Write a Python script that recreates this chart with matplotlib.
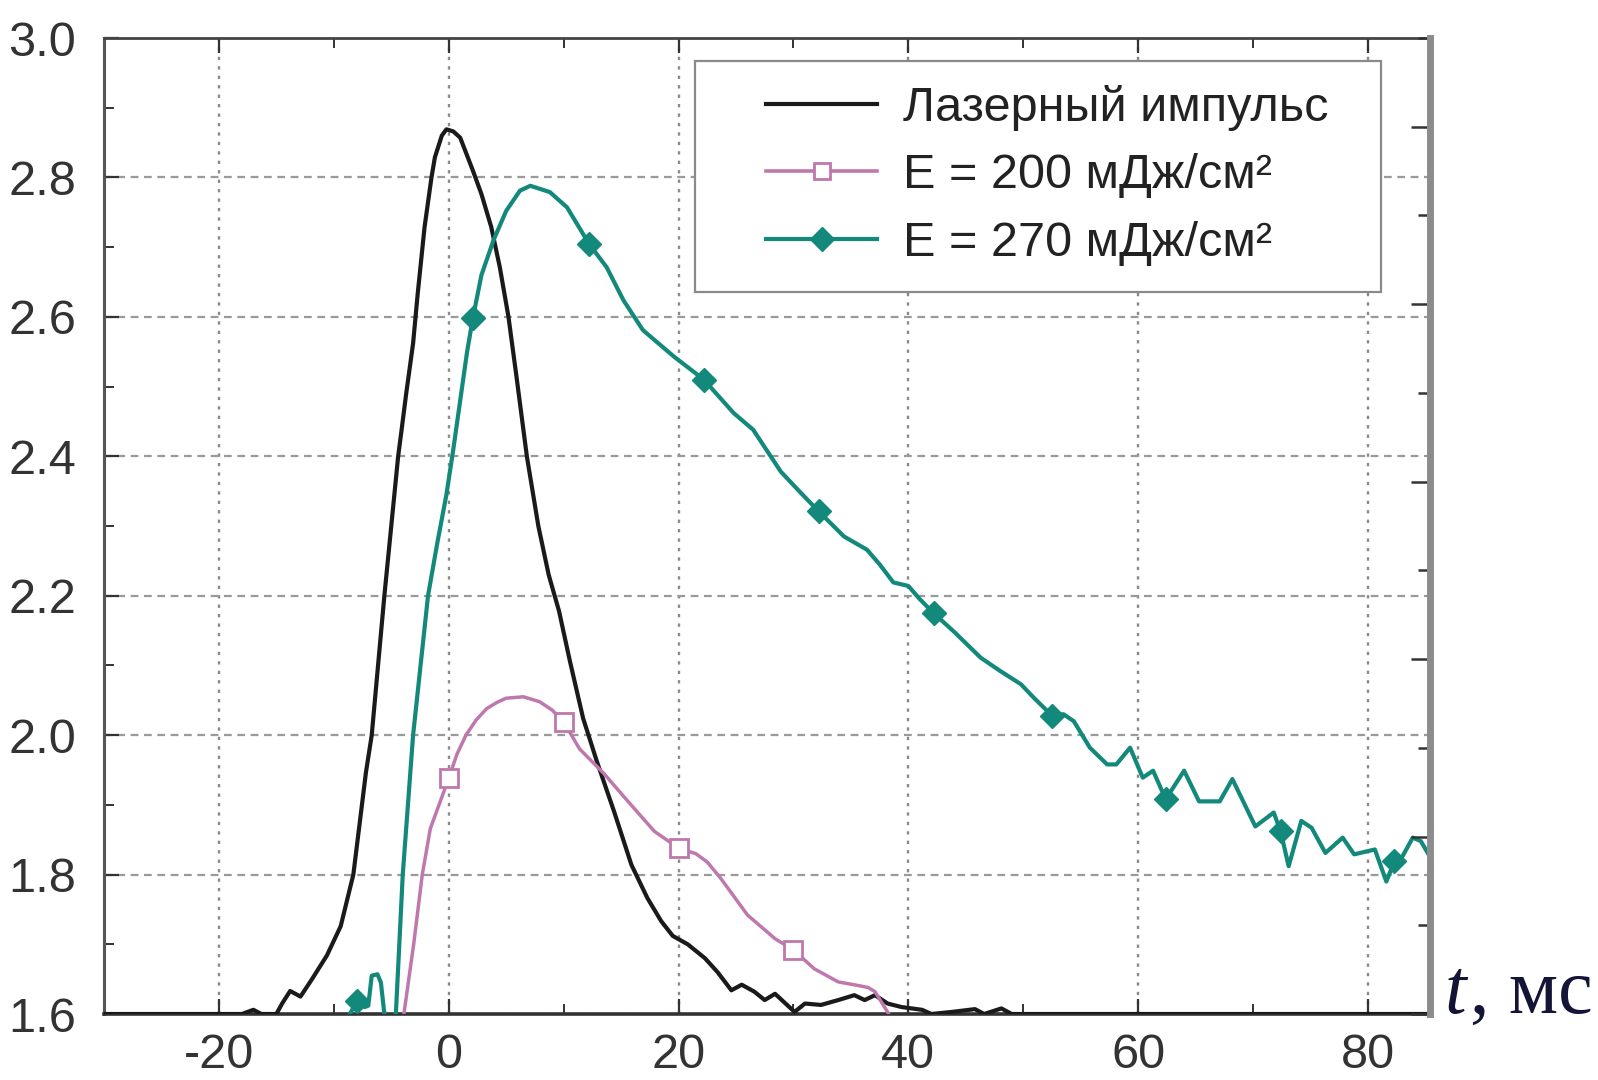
import matplotlib
matplotlib.use('Agg')
import matplotlib.pyplot as plt
import numpy as np
from matplotlib.lines import Line2D
from matplotlib.patches import Rectangle
from matplotlib.ticker import MultipleLocator

plt.rcParams['font.family'] = ['Liberation Sans', 'DejaVu Sans']
plt.rcParams['axes.unicode_minus'] = False

# ---------------- data ----------------
laser_t = [-30, -18, -17, -16.3, -15, -14.5, -13.8, -12.9, -11.9, -10.6, -9.4, -8.3, -7.2,
           -6.7, -5.6, -4.4, -4.1, -3.7, -3.1, -2.7, -2.1, -1.5, -1.2, -0.6, -0.2, 0.4, 1.0,
           2.1, 2.85, 3.7, 4.45, 5.2, 5.9, 6.8, 7.8, 8.7, 9.6, 10.55, 11.7, 12.9, 14.4, 15.9, 17.3,
           18.5, 19.5, 20.8, 22.3, 23.4, 24.6, 25.5, 26.6, 27.5, 28.4, 30.1, 31.0, 32.4, 33.9,
           35.3, 36.2, 37.1, 38.2, 39.4, 41.2, 42.0, 43.8, 45.8, 46.6, 48.1, 49.0, 85.4]
laser_y = [1.600, 1.600, 1.606, 1.600, 1.600, 1.615, 1.633, 1.625, 1.650, 1.684, 1.726, 1.800, 1.947,
           2.000, 2.200, 2.400, 2.438, 2.490, 2.562, 2.633, 2.729, 2.800, 2.829, 2.860, 2.869, 2.866, 2.857,
           2.810, 2.776, 2.729, 2.671, 2.600, 2.514, 2.400, 2.300, 2.230, 2.178, 2.106, 2.024, 1.962, 1.890, 1.814, 1.766,
           1.733, 1.712, 1.700, 1.680, 1.660, 1.634, 1.642, 1.632, 1.620, 1.629, 1.603, 1.615, 1.613, 1.620,
           1.627, 1.620, 1.627, 1.615, 1.610, 1.606, 1.600, 1.603, 1.607, 1.600, 1.608, 1.600, 1.600]

e200_t = [-3.9, -3.05, -2.3, -1.6, 0.0, 0.7, 1.5, 2.4, 3.3, 4.2, 5.0, 6.5, 7.9, 9.0, 10.0,
          11.4, 13.5, 15.6, 17.9, 20.0, 21.5, 22.5, 23.7, 26.0, 28.4, 30.0, 31.8, 33.9, 35.6,
          36.5, 37.1, 38.3]
e200_y = [1.600, 1.700, 1.800, 1.866, 1.938, 1.972, 2.000, 2.022, 2.038, 2.047, 2.053, 2.055, 2.048,
          2.036, 2.019, 1.980, 1.945, 1.905, 1.862, 1.838, 1.830, 1.818, 1.794, 1.742, 1.708,
          1.692, 1.665, 1.646, 1.641, 1.638, 1.632, 1.600]
e200_mark_t = [0.0, 10.0, 20.0, 30.0]

e270_t = [-8.6, -8.0, -7.3, -7.0, -6.7, -6.2, -5.9, -5.6, -5.2, -4.6, -4.0, -3.1, -1.8, -1.0, -0.2,
          0.4, 1.0, 1.6, 2.1, 2.85, 3.9, 5.0, 6.2, 7.1, 8.8, 10.3, 12.2, 13.75, 15.2, 16.9, 19.6, 22.2, 24.8,
          26.5, 28.9, 30.5, 32.2, 34.4, 36.4, 37.5, 38.7, 40.0, 41.0, 42.2, 44.0, 46.3, 48.0,
          49.8, 50.9, 52.5, 53.5, 54.4, 55.8, 57.3, 58.1, 59.3, 60.4, 61.3, 62.4, 64.0, 65.3,
          67.1, 68.2, 70.2, 71.8, 72.4, 73.1, 74.2, 75.1, 76.3, 77.8, 78.8, 80.6, 81.6, 82.3,
          83.0, 83.9, 84.6, 85.2]
e270_y = [1.600, 1.618, 1.610, 1.612, 1.655, 1.657, 1.645, 1.600, 1.590, 1.600, 1.800, 2.000, 2.200, 2.275, 2.345,
          2.410, 2.480, 2.550, 2.598, 2.660, 2.710, 2.752, 2.781, 2.788, 2.779, 2.757, 2.705, 2.671, 2.624, 2.581, 2.543, 2.510, 2.462,
          2.438, 2.378, 2.350, 2.321, 2.285, 2.266, 2.245, 2.219, 2.214, 2.195, 2.175, 2.148, 2.111, 2.092,
          2.073, 2.054, 2.028, 2.030, 2.020, 1.982, 1.958, 1.958, 1.982, 1.939, 1.949, 1.908, 1.949, 1.905,
          1.905, 1.937, 1.869, 1.889, 1.862, 1.812, 1.877, 1.867, 1.831, 1.853, 1.829, 1.836, 1.790, 1.819,
          1.826, 1.853, 1.848, 1.831]
e270_mark_t = [-8.0, 2.1, 12.2, 22.2, 32.2, 42.2, 52.5, 62.4, 72.4, 82.3]

x_ticks = [-20, 0, 20, 40, 60, 80]
y_ticks = [1.6, 1.8, 2.0, 2.2, 2.4, 2.6, 2.8, 3.0]
y_labels = ['1.6', '1.8', '2.0', '2.2', '2.4', '2.6', '2.8', '3.0']
legend_labels = ['Лазерный импульс', 'E = 200 мДж/см²', 'E = 270 мДж/см²']

# ---------------- style ----------------
BLACK = '#1a1a1a'
PINK = '#bf78ad'
TEAL = '#12897b'
W, H = 1598, 1080

fig = plt.figure(figsize=(W / 100, H / 100), dpi=100)
ax = fig.add_axes([104 / W, 66 / H, 1326 / W, 976 / H])

ax.plot(laser_t, laser_y, color=BLACK, lw=3.0, zorder=3, solid_joinstyle='round')
m200 = list(np.nonzero(np.isin(e200_t, e200_mark_t))[0])
ax.plot(e200_t, e200_y, color=PINK, lw=2.5, marker='s', ms=13, mfc='white', mec=PINK,
        mew=2.0, markevery=m200, zorder=3, solid_joinstyle='round')
m270 = list(np.nonzero(np.isin(e270_t, e270_mark_t))[0])
ax.plot(e270_t, e270_y, color=TEAL, lw=3.0, marker='D', ms=12, mfc=TEAL, mec=TEAL,
        markevery=m270, zorder=3, solid_joinstyle='round')

ax.set_xlim(-30, 85.4)
ax.set_ylim(1.6, 3.0)
ax.set_xticks(x_ticks)
ax.set_xticklabels([str(v) for v in x_ticks])
ax.set_yticks(y_ticks)
ax.set_yticklabels(y_labels)
ax.xaxis.set_minor_locator(MultipleLocator(10))
ax.yaxis.set_minor_locator(MultipleLocator(0.1))

ax.tick_params(which='both', direction='in', top=True, right=False, colors='#333333')
ax.tick_params(which='major', length=11, width=1.6, labelsize=35, labelcolor='#333333')
ax.tick_params(which='minor', length=7, width=1.4)
ax.tick_params(axis='y', which='major', pad=20)
ax.tick_params(axis='x', which='major', pad=14)

ax.yaxis.grid(True, which='major', color='#9a9a9a', lw=1.6, ls=(0, (3.5, 2.5)))
ax.xaxis.grid(True, which='major', color='#8a8a8a', lw=1.7, ls=(0, (1.4, 2.6)))
ax.set_axisbelow(True)

ax.spines['left'].set_color('#555555')
ax.spines['left'].set_linewidth(2.2)
ax.spines['bottom'].set_color('#333333')
ax.spines['bottom'].set_linewidth(2.6)
ax.spines['top'].set_color('#444444')
ax.spines['top'].set_linewidth(2.0)
ax.spines['right'].set_visible(False)

# right-hand axis with its own tick scale
ax2 = ax.twinx()
ax2.set_ylim(0, 11)
ax2.yaxis.set_major_locator(MultipleLocator(2))
ax2.yaxis.set_minor_locator(MultipleLocator(1))
ax2.tick_params(which='both', direction='in', labelright=False, colors='#333333')
ax2.tick_params(which='major', length=14, width=1.8)
ax2.tick_params(which='minor', length=9, width=1.8)
for s in ['left', 'top', 'bottom']:
    ax2.spines[s].set_visible(False)
ax2.spines['right'].set_color('#8c8c8c')
ax2.spines['right'].set_linewidth(5)

# legend with a custom frame
frame = Rectangle((0.4457, 0.7398), 0.963 - 0.4457, 0.9764 - 0.7398, transform=ax.transAxes,
                  fc='white', ec='#8a8a8a', lw=1.6, zorder=4)
ax.add_patch(frame)
handles = [Line2D([], [], color=BLACK, lw=3.0),
           Line2D([], [], color=PINK, lw=2.6, marker='s', ms=12, mfc='white', mec=PINK, mew=2.0),
           Line2D([], [], color=TEAL, lw=3.0, marker='D', ms=12, mfc=TEAL, mec=TEAL)]
leg = ax.legend(handles, legend_labels, loc='upper left', bbox_to_anchor=(0.499, 0.952),
                frameon=False, borderpad=0, borderaxespad=0, handlelength=2.3,
                handletextpad=0.53, labelspacing=0.46, fontsize=35, numpoints=1)
leg.set_zorder(5)
for t in leg.get_texts():
    t.set_color('#222222')

# axis label "t, мс"
lab1 = fig.text(1445 / W, 67 / H, 't', fontsize=56, family='Liberation Serif', style='italic',
                color='#141436', va='baseline', ha='left')
fig.canvas.draw()
bb = lab1.get_window_extent(fig.canvas.get_renderer())
fig.text(bb.x1 / W + 0.002, 67 / H, ', мс', fontsize=56, family='Liberation Serif',
         color='#141436', va='baseline', ha='left')

fig.savefig('out.png', dpi=100)
